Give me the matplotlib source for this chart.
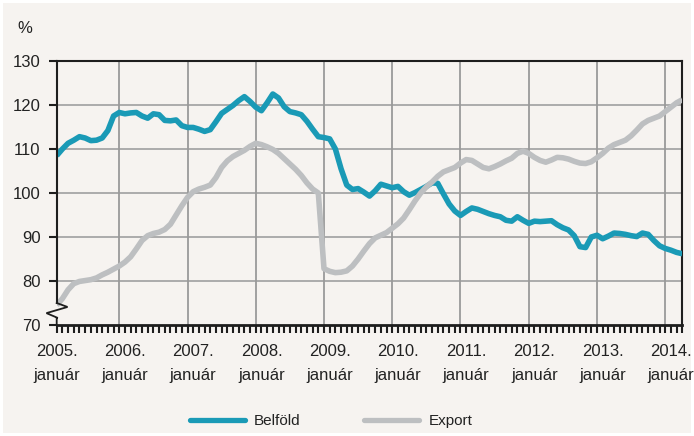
import numpy as np
import matplotlib
matplotlib.use("Agg")
import matplotlib.pyplot as plt
from matplotlib.patches import Rectangle
from matplotlib.lines import Line2D

plt.rcParams['font.family'] = ['Liberation Sans', 'DejaVu Sans']

# ---- data (monthly, 2005 Jan .. 2014 Mar) ----
belfold = [108.5, 110.0, 111.3, 112.0, 112.8, 112.5, 111.9, 112.0, 112.5, 114.2,
           117.5, 118.3, 118.0, 118.2, 118.3, 117.5, 117.0, 118.0, 117.8, 116.5,
           116.4, 116.6, 115.3, 114.9, 114.9, 114.5, 114.0, 114.4, 116.2, 118.1,
           119.0, 119.9, 121.0, 121.9, 120.8, 119.5, 118.7, 120.5, 122.5, 121.6,
           119.6, 118.5, 118.2, 117.8, 116.3, 114.5, 112.8, 112.6, 112.3, 110.0,
           105.5, 101.8, 100.8, 101.0, 100.2, 99.3, 100.5, 102.0, 101.6, 101.2,
           101.5, 100.3, 99.5, 100.1, 100.8, 101.5, 102.3, 102.2, 99.8, 97.5,
           95.9, 94.9, 95.8, 96.6, 96.3, 95.8, 95.3, 94.9, 94.6, 93.8,
           93.6, 94.6, 93.8, 93.1, 93.6, 93.5, 93.6, 93.7, 92.8, 92.1,
           91.6, 90.3, 87.8, 87.6, 90.0, 90.4, 89.6, 90.2, 90.9, 90.8,
           90.6, 90.3, 90.1, 90.9, 90.6, 89.2, 88.0, 87.4, 87.0, 86.5,
           86.2]
export = [74.5, 76.0, 78.0, 79.4, 79.9, 80.1, 80.3, 80.7, 81.4, 82.0,
          82.7, 83.4, 84.3, 85.5, 87.3, 89.2, 90.3, 90.8, 91.1, 91.7,
          92.9, 95.0, 97.1, 99.0, 100.3, 100.9, 101.3, 101.8, 103.5, 105.8,
          107.3, 108.3, 109.0, 109.7, 110.6, 111.3, 111.0, 110.5, 109.9, 109.0,
          107.8, 106.6, 105.4, 104.0, 102.3, 100.9, 100.0, 82.8, 82.2, 81.9,
          82.0, 82.3, 83.4, 85.0, 86.8, 88.5, 89.8, 90.4, 91.0, 92.0,
          93.0, 94.3, 96.2, 98.2, 100.0, 101.4, 102.5, 103.8, 104.8, 105.3,
          105.8, 106.8, 107.6, 107.4, 106.6, 105.8, 105.5, 106.0, 106.6, 107.3,
          107.9, 109.0, 109.5, 109.0, 108.1, 107.4, 107.0, 107.5, 108.1, 108.0,
          107.7, 107.2, 106.8, 106.7, 107.1, 108.0, 109.0, 110.2, 111.0, 111.5,
          112.0, 113.0, 114.3, 115.7, 116.5, 117.0, 117.5, 118.5, 119.5, 120.5,
          121.2]
years = ['2005', '2006', '2007', '2008', '2009', '2010', '2011', '2012', '2013', '2014']
month_label = 'január'
series_names = ['Belföld', 'Export']
y_ticks = [70, 80, 90, 100, 110, 120, 130]

BG = '#F6F3F0'
TEAL = '#1A9AB6'
GRAY = '#BDBFC1'
DARK = '#1E1E1E'

fig = plt.figure(figsize=(6.94, 4.36), dpi=100, facecolor='white')
fig.patches.append(Rectangle((3 / 694, 3 / 436), 1 - 6 / 694, 1 - 6 / 436,
                             transform=fig.transFigure, facecolor=BG,
                             edgecolor='none', zorder=-10))

ax = fig.add_axes([56.7 / 694, 1 - 325 / 436, (682.3 - 56.7) / 694, (325 - 61) / 436])
ax.set_facecolor(BG)

n = len(belfold)
x = np.arange(n)
ax.set_xlim(0, n - 1)
ax.set_ylim(70, 130)

# gridlines
for v in y_ticks[1:-1]:
    ax.axhline(v, color='#A6A6A6', lw=1.3, zorder=1)
for k in range(len(years) - 1):
    ax.axvline(11 + 12 * k, color='#9A9A9A', lw=1.3, zorder=1)

ax.plot(x, belfold, color=TEAL, lw=4.0, solid_joinstyle='round',
        solid_capstyle='butt', zorder=3)
ax.plot(x, export, color=GRAY, lw=4.0, solid_joinstyle='round',
        solid_capstyle='butt', zorder=4)

# spines
for s in ['top', 'right', 'bottom']:
    ax.spines[s].set_color(DARK)
    ax.spines[s].set_linewidth(1.5)
ax.spines['bottom'].set_linewidth(2.0)
ax.spines['left'].set_visible(False)

# left spine with axis break zigzag
ax.plot([0, 0], [130, 75.0], color=DARK, lw=1.5, clip_on=False, zorder=6)
ax.plot([0, 1.9, -1.8, 0.2, 0, 0], [75.0, 74.1, 72.7, 71.6, 71.6, 70],
        color=DARK, lw=1.3, clip_on=False, zorder=6, solid_joinstyle='miter')

# y ticks
ax.set_yticks(y_ticks)
ax.set_yticklabels([str(v) for v in y_ticks])
ax.tick_params(axis='y', direction='out', length=6, width=1.5, color=DARK,
               pad=5.5, labelsize=12, labelcolor='#222222')

# x ticks
ax.set_xticks(np.arange(0, n, 12))
ax.set_xticklabels([f'{y}.\n{month_label}' for y in years], linespacing=1.75)
ax.set_xticks(np.arange(0, n), minor=True)
ax.tick_params(axis='x', which='both', direction='out', length=5.5, width=1.5,
               color=DARK)
ax.tick_params(axis='x', which='major', pad=8, labelsize=12, labelcolor='#222222')
ax.tick_params(right=False, top=False)

fig.text(25 / 694, 1 - 28 / 436, '%', fontsize=12, color='#222222',
         ha='center', va='center')

handles = [Line2D([], [], color=TEAL, lw=3.8, solid_capstyle='round'),
           Line2D([], [], color=GRAY, lw=3.8, solid_capstyle='round')]
fig.legend(handles, series_names, loc='center', ncol=2, frameon=False,
           bbox_to_anchor=(331 / 694, 1 - 421 / 436), fontsize=11,
           handlelength=3.6, handletextpad=0.6, columnspacing=4.2,
           labelcolor='#222222')

fig.savefig('out.png', dpi=100, facecolor='white')
